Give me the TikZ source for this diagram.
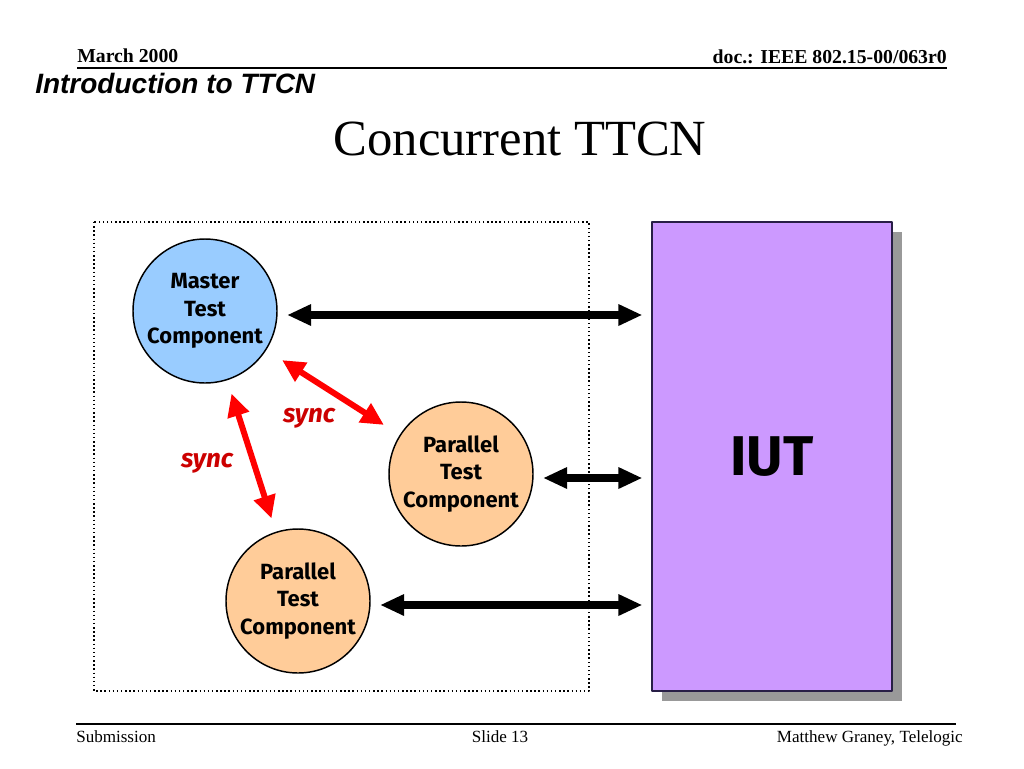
\documentclass[tikz,border=0pt]{standalone}
\usepackage{fontspec}
\setmainfont{Liberation Serif}
\newfontfamily\arialfont{Liberation Sans}
\newfontfamily\comicfont{Fira Sans}
\usetikzlibrary{arrows.meta,shadows}
\definecolor{mtcblue}{RGB}{153,204,255}
\definecolor{ptcorange}{RGB}{255,204,153}
\definecolor{iutpurple}{RGB}{204,153,255}
\definecolor{iutborder}{RGB}{40,30,70}
\definecolor{syncred}{RGB}{204,0,0}
\begin{document}
\begin{tikzpicture}[x=0.75pt, y=-0.75pt, line join=round,
		comp/.style={circle, draw, line width=1.1pt, minimum size=108pt, inner sep=0pt, align=center, font=\comicfont\bfseries\fontsize{16.5}{20.5}\selectfont},
		bigarrow/.style={{Triangle[length=18pt,width=15pt]}-{Triangle[length=18pt,width=15pt]}, line width=5.5pt, shorten <=7pt, shorten >=6.75pt},
		syncarrow/.style={{Triangle[length=17pt,width=16pt]}-{Triangle[length=17pt,width=16pt]}, red, line width=4.5pt},
		synclbl/.style={text=syncred, anchor=base, font=\comicfont\bfseries\itshape\fontsize{19.5}{22}\selectfont},
		pagetext/.style={inner sep=0pt, font=\fontsize{12.8}{15}\selectfont}]
			\useasboundingbox (0,0) rectangle (1024,768);
			\node[pagetext, anchor=base west, font=\bfseries\fontsize{14.8}{17}\selectfont] (date) at (77,62) {March 2000};
			\node[pagetext, anchor=base east, font=\bfseries\fontsize{14.8}{17}\selectfont] (doc) at (947,63) {doc.: IEEE 802.15-00/063r0};
			\draw[line width=1.5pt] (77,68) -- (947,68);
			\node[pagetext, anchor=base west, font=\arialfont\bfseries\itshape\fontsize{21}{24}\selectfont] (topic) at (35,93) {Introduction to TTCN};
			\node[anchor=base, font=\fontsize{38}{44}\selectfont] (title) at (520,155) {Concurrent TTCN};
			\draw[dotted, line width=1.1pt] (94,222) rectangle (589,691);
			\node[draw=iutborder, line width=0.9pt, fill=iutpurple, minimum width=180pt, minimum height=351.75pt, inner sep=0pt,
				drop shadow={shadow xshift=7.5pt, shadow yshift=-7.5pt, fill=black!40, opacity=1},
				font=\comicfont\bfseries\fontsize{42}{48}\selectfont] (iut) at (772,456.5) {IUT};
			\node[comp, fill=mtcblue] (master) at (205,311) {Master\\Test\\Component};
			\node[comp, fill=ptcorange] (ptcA) at (461,474) {Parallel\\Test\\Component};
			\node[comp, fill=ptcorange] (ptcB) at (298,601) {Parallel\\Test\\Component};
			\draw[bigarrow] ([yshift=-3pt]master.east) -- ([yshift=-3pt]master.east -| iut.west);
			\draw[bigarrow] ([yshift=-3pt]ptcA.east) -- ([yshift=-3pt]ptcA.east -| iut.west);
			\draw[bigarrow] ([yshift=-3pt]ptcB.east) -- ([yshift=-3pt]ptcB.east -| iut.west);
			\draw[syncarrow, shorten <=14pt, shorten >=14pt] (master) -- (ptcA);
			\draw[syncarrow, shorten <=10.5pt, shorten >=10.5pt] (master) -- (ptcB);
			\node[synclbl] (syncA) at (309,422) {sync};
			\node[synclbl] (syncB) at (207,467) {sync};
			\draw[line width=1.2pt] (76,724) -- (956,724);
			\node[pagetext, anchor=base west] (sub) at (76,742) {Submission};
			\node[pagetext, anchor=base] (slide) at (500,742) {Slide 13};
			\node[pagetext, anchor=base east] (author) at (963,742) {Matthew Graney, Telelogic};
\end{tikzpicture}
\end{document}
